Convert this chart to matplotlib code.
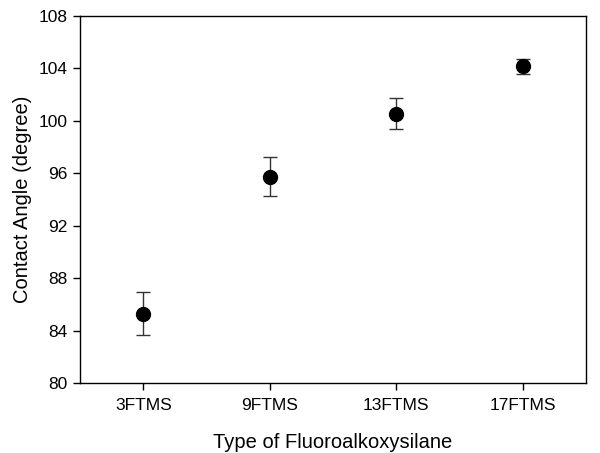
import matplotlib.pyplot as plt

plt.rcParams['font.family'] = ['Liberation Sans', 'DejaVu Sans']

categories = ['3FTMS', '9FTMS', '13FTMS', '17FTMS']
angles = [85.3, 95.75, 100.55, 104.15]
errors = [1.65, 1.5, 1.2, 0.6]

fig = plt.figure(figsize=(6, 4.53), dpi=100)
ax = fig.add_axes([0.1333, 0.1545, 0.8434, 0.8102])

x = list(range(len(categories)))
ax.errorbar(x, angles, yerr=errors, fmt='o', color='black', markersize=10,
            ecolor='#333333', elinewidth=1, capsize=5, capthick=1)

ax.set_xlim(-0.5, 3.5)
ax.set_ylim(80, 108)
ax.set_yticks(range(80, 109, 4))
ax.set_xticks(x)
ax.set_xticklabels(categories)
ax.tick_params(axis='both', direction='out', labelsize=12.5, length=5, width=1, pad=4)
ax.tick_params(axis='x', pad=6)
ax.set_xlabel('Type of Fluoroalkoxysilane', fontsize=14.5, labelpad=14)
ax.set_ylabel('Contact Angle (degree)', fontsize=14.5, labelpad=5)
for s in ax.spines.values():
    s.set_linewidth(1)

plt.savefig('out.png', dpi=100)
